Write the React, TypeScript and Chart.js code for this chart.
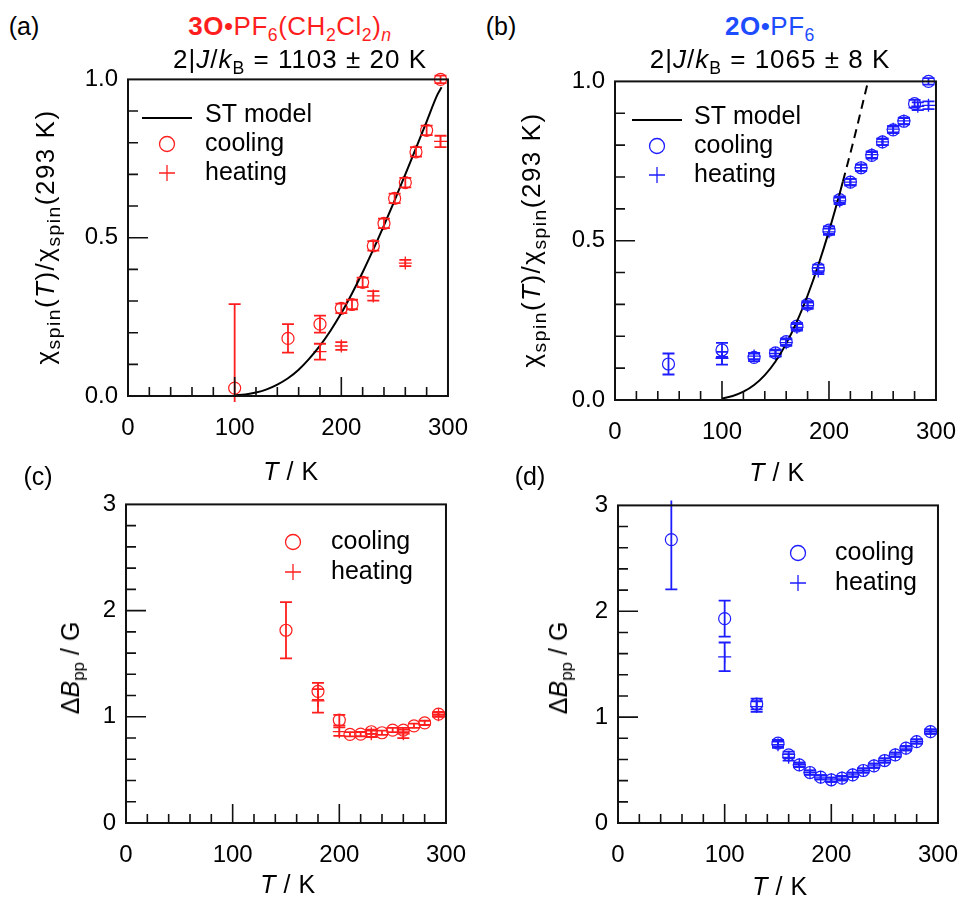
import React, { useEffect, useRef } from "react";
import { Chart, registerables } from "chart.js";
Chart.register(...registerables);

const FONT = '"Liberation Sans", Arial, Helvetica, sans-serif';
const RED = "#ff1e1e";
const BLUE = "#1c1cff";

// ---------- Panel (a): 3O·PF6(CH2Cl2)n, chi ratio ----------
const aCoolT = [100, 150, 180, 200, 210, 220, 230, 240, 250, 260, 270, 280, 293];
const aCoolV = [0.025, 0.182, 0.227, 0.277, 0.289, 0.359, 0.474, 0.545, 0.624, 0.674, 0.771, 0.839, 1.0];
const aCoolE = [0.265, 0.045, 0.027, 0.015, 0.015, 0.015, 0.015, 0.015, 0.015, 0.015, 0.015, 0.015, 0.012];
const aHeatT = [180, 200, 230, 260, 293];
const aHeatV = [0.14, 0.158, 0.316, 0.42, 0.804];
const aHeatE = [0.025, 0.012, 0.015, 0.01, 0.018];
const aStT = [100, 110, 120, 130, 140, 150, 160, 170, 180, 190, 200, 210, 220, 230, 240, 250, 260, 270, 280, 290, 294];
const aStV = [0.002, 0.005, 0.011, 0.021, 0.036, 0.056, 0.083, 0.118, 0.159, 0.207, 0.262, 0.324, 0.391, 0.463, 0.539, 0.618, 0.7, 0.783, 0.867, 0.951, 0.975];

// ---------- Panel (b): 2O·PF6, chi ratio ----------
const bCoolT = [50, 100, 130, 150, 160, 170, 180, 190, 200, 210, 220, 230, 240, 250, 260, 270, 280, 293];
const bCoolV = [0.113, 0.157, 0.134, 0.148, 0.183, 0.232, 0.3, 0.413, 0.533, 0.629, 0.684, 0.729, 0.768, 0.81, 0.848, 0.875, 0.93, 1.0];
const bCoolE = [0.033, 0.022, 0.012, 0.01, 0.01, 0.01, 0.01, 0.012, 0.012, 0.01, 0.01, 0.01, 0.01, 0.01, 0.01, 0.01, 0.012, 0.01];
const bHeatT = [100, 130, 150, 160, 170, 180, 190, 200, 210, 220, 230, 240, 250, 260, 270, 283, 293];
const bHeatV = [0.131, 0.138, 0.146, 0.18, 0.228, 0.296, 0.405, 0.528, 0.625, 0.684, 0.729, 0.77, 0.81, 0.85, 0.876, 0.922, 0.925];
const bHeatE = [0.02, 0.01, 0.01, 0.01, 0.01, 0.01, 0.01, 0.01, 0.01, 0.01, 0.01, 0.01, 0.01, 0.01, 0.01, 0.012, 0.012];
const bStT = [100, 110, 120, 130, 140, 150, 160, 170, 180, 190, 200, 210, 213];
const bStV = [0.005, 0.0125, 0.026, 0.047, 0.078, 0.121, 0.177, 0.246, 0.328, 0.423, 0.53, 0.648, 0.686];
const bStDashT = [213, 220, 225, 230, 236.5];
const bStDashV = [0.686, 0.775, 0.841, 0.91, 1.0];

// ---------- Panel (c): 3O·PF6(CH2Cl2)n, linewidth ----------
const cCoolT = [150, 180, 200, 210, 220, 230, 240, 250, 260, 270, 280, 293];
const cCoolV = [1.815, 1.24, 0.969, 0.835, 0.837, 0.859, 0.85, 0.875, 0.875, 0.915, 0.943, 1.025];
const cCoolE = [0.265, 0.08, 0.05, 0.02, 0.02, 0.02, 0.02, 0.02, 0.02, 0.02, 0.02, 0.02];
const cHeatT = [180, 200, 230, 260, 293];
const cHeatV = [1.15, 0.86, 0.84, 0.84, 1.02];
const cHeatE = [0.11, 0.04, 0.03, 0.04, 0.02];

// ---------- Panel (d): 2O·PF6, linewidth ----------
const dCoolT = [50, 100, 130, 150, 160, 170, 180, 190, 200, 210, 220, 230, 240, 250, 260, 270, 280, 293];
const dCoolV = [2.677, 1.93, 1.124, 0.754, 0.644, 0.549, 0.477, 0.433, 0.408, 0.424, 0.455, 0.496, 0.54, 0.59, 0.644, 0.707, 0.769, 0.863];
const dCoolE = [0.47, 0.17, 0.05, 0.03, 0.03, 0.02, 0.02, 0.02, 0.02, 0.02, 0.02, 0.02, 0.02, 0.02, 0.02, 0.02, 0.02, 0.02];
const dHeatT = [100, 130, 150, 160, 170, 180, 190, 200, 210, 220, 230, 240, 250, 260, 270, 280, 293];
const dHeatV = [1.57, 1.1, 0.74, 0.62, 0.55, 0.475, 0.433, 0.408, 0.424, 0.455, 0.496, 0.54, 0.59, 0.644, 0.707, 0.769, 0.863];
const dHeatE = [0.135, 0.05, 0.03, 0.03, 0.02, 0.02, 0.02, 0.02, 0.02, 0.02, 0.02, 0.02, 0.02, 0.02, 0.02, 0.02, 0.02];

const xTickLabels = [0, 100, 200, 300];

const PAD_L = 90, PAD_T = 24, PAD_R = 36, PAD_B = 60;

type Series = { T: number[]; V: number[]; E?: number[] };
type Line = { T: number[]; V: number[]; dash?: number[] };
type Leg = { x: number; y: number; tx: number; ty: number };
type PanelProps = {
  plot: { l: number; t: number; w: number; h: number };
  yMax: number; yStep: number; yMinor: number; yDigits: number;
  color: string;
  cool: Series; heat: Series; lines: Line[];
  legLine?: { x1: number; x2: number; y: number; tx: number; ty: number };
  legCool: Leg; legHeat: Leg;
};

const zip = (T: number[], V: number[]) => T.map((t, i) => ({ x: t, y: V[i] }));

function Panel(p: PanelProps) {
  const ref = useRef<HTMLCanvasElement>(null);
  const cl = p.plot.l - PAD_L, ct = p.plot.t - PAD_T;
  const cw = p.plot.w + PAD_L + PAD_R, ch = p.plot.h + PAD_T + PAD_B;
  useEffect(() => {
    if (!ref.current) return;
    const datasets: any[] = [];
    p.lines.forEach((l) =>
      datasets.push({
        data: zip(l.T, l.V), showLine: true, borderColor: "#000", borderWidth: 2,
        borderDash: l.dash || [], pointRadius: 0, cubicInterpolationMode: "monotone", clip: 4,
      })
    );
    datasets.push({
      data: zip(p.cool.T, p.cool.V), pointStyle: "circle", pointRadius: 6,
      pointBorderWidth: 1.2, pointBorderColor: p.color, pointBackgroundColor: "rgba(0,0,0,0)", clip: false,
    });
    datasets.push({
      data: zip(p.heat.T, p.heat.V), pointStyle: "cross", pointRadius: 6.5,
      pointBorderWidth: 1.3, pointBorderColor: p.color, pointBackgroundColor: p.color, clip: false,
    });
    const toC = (x: number, y: number) => [x - cl, y - ct];
    const deco = {
      id: "deco",
      afterDatasetsDraw(chart: any) {
        const { ctx, chartArea: a, scales } = chart;
        const xs = scales.x, ys = scales.y;
        ctx.save();
        ctx.strokeStyle = p.color;
        ctx.lineWidth = 1.8;
        [p.cool, p.heat].forEach((s) => {
          if (!s.E) return;
          s.T.forEach((t, i) => {
            const px = xs.getPixelForValue(t);
            const y1 = ys.getPixelForValue(s.V[i] + s.E![i]);
            const y2 = ys.getPixelForValue(s.V[i] - s.E![i]);
            const lt = a.top - 5, lb = a.bottom + 6;
            const yt = Math.max(y1, lt), yb = Math.min(y2, lb);
            ctx.beginPath();
            ctx.moveTo(px, yt); ctx.lineTo(px, yb);
            if (y1 >= lt) { ctx.moveTo(px - 6, y1); ctx.lineTo(px + 6, y1); }
            if (y2 <= lb) { ctx.moveTo(px - 6, y2); ctx.lineTo(px + 6, y2); }
            ctx.stroke();
          });
        });
        ctx.restore();
      },
      afterDraw(chart: any) {
        const { ctx, chartArea: a, scales } = chart;
        const xs = scales.x, ys = scales.y;
        ctx.save();
        ctx.strokeStyle = "#111";
        ctx.lineWidth = 2;
        ctx.strokeRect(a.left, a.top, a.right - a.left, a.bottom - a.top);
        ctx.lineWidth = 1.6;
        ctx.beginPath();
        for (let t = 20; t < 300; t += 20) {
          const px = xs.getPixelForValue(t);
          const len = t % 100 === 0 ? 19 : 9;
          ctx.moveTo(px, a.bottom); ctx.lineTo(px, a.bottom - len);
        }
        const n = Math.round(p.yMax / p.yMinor);
        const r = Math.round(p.yStep / p.yMinor);
        for (let k = 1; k < n; k++) {
          const py = ys.getPixelForValue(k * p.yMinor);
          const len = k % r === 0 ? 20 : 10;
          ctx.moveTo(a.left, py); ctx.lineTo(a.left + len, py);
        }
        ctx.stroke();
        // legend
        ctx.font = `25px ${FONT}`;
        ctx.fillStyle = "#000";
        ctx.textBaseline = "middle";
        ctx.textAlign = "left";
        if (p.legLine) {
          const L = p.legLine;
          const [x1, y1] = toC(L.x1, L.y); const [x2] = toC(L.x2, L.y);
          ctx.strokeStyle = "#000"; ctx.lineWidth = 2;
          ctx.beginPath(); ctx.moveTo(x1, y1); ctx.lineTo(x2, y1); ctx.stroke();
          const [tx, ty] = toC(L.tx, L.ty);
          ctx.fillText("ST model", tx, ty);
        }
        ctx.strokeStyle = p.color; ctx.lineWidth = 1.3;
        {
          const [cx, cy] = toC(p.legCool.x, p.legCool.y);
          ctx.beginPath(); ctx.arc(cx, cy, 7.5, 0, Math.PI * 2); ctx.stroke();
          const [tx, ty] = toC(p.legCool.tx, p.legCool.ty);
          ctx.fillText("cooling", tx, ty);
        }
        {
          const [cx, cy] = toC(p.legHeat.x, p.legHeat.y);
          ctx.beginPath();
          ctx.moveTo(cx - 8, cy); ctx.lineTo(cx + 8, cy);
          ctx.moveTo(cx, cy - 8); ctx.lineTo(cx, cy + 8);
          ctx.stroke();
          const [tx, ty] = toC(p.legHeat.tx, p.legHeat.ty);
          ctx.fillText("heating", tx, ty);
        }
        ctx.restore();
      },
    };
    const chart = new Chart(ref.current, {
      type: "scatter",
      data: { datasets },
      options: {
        responsive: false,
        maintainAspectRatio: false,
        animation: false,
        layout: { padding: { top: PAD_T, right: PAD_R, left: 0, bottom: 0 } },
        plugins: { legend: { display: false }, tooltip: { enabled: false } },
        scales: {
          x: {
            type: "linear", min: 0, max: 300,
            afterBuildTicks: (s: any) => { s.ticks = xTickLabels.map((v) => ({ value: v })); },
            ticks: { font: { family: FONT, size: 24 }, color: "#000", padding: 18, maxRotation: 0, autoSkip: false },
            grid: { display: false, drawTicks: false },
            border: { display: false },
            afterFit: (s: any) => { s.height = PAD_B; },
          },
          y: {
            type: "linear", min: 0, max: p.yMax,
            ticks: {
              stepSize: p.yStep, font: { family: FONT, size: 24 }, color: "#000", padding: 10,
              callback: (v: any) => Number(v).toFixed(p.yDigits),
            },
            grid: { display: false, drawTicks: false },
            border: { display: false },
            afterFit: (s: any) => { s.width = PAD_L; },
          },
        },
      } as any,
      plugins: [deco],
    });
    return () => chart.destroy();
  }, []);
  return (
    <canvas
      ref={ref}
      width={cw}
      height={ch}
      style={{ position: "absolute", left: cl, top: ct, width: cw, height: ch }}
    />
  );
}

function Txt(props: { x: number; y: number; size: number; color?: string; rot?: boolean; ls?: number; children: any }) {
  return (
    <div
      style={{
        position: "absolute", left: props.x, top: props.y,
        transform: `translate(-50%, -50%)${props.rot ? " rotate(-90deg)" : ""}`,
        whiteSpace: "nowrap", fontFamily: FONT, fontSize: props.size, lineHeight: 1.2,
        color: props.color || "#000", letterSpacing: props.ls ? `${props.ls}px` : undefined,
      }}
    >
      {props.children}
    </div>
  );
}

const Sub = (p: { children: any; s?: number }) => (
  <span style={{ fontSize: `${p.s || 0.68}em`, position: "relative", top: "0.32em" }}>{p.children}</span>
);

const Chi = () => (
  <span>
    χ<Sub s={0.74}>spin</Sub>(<i>T</i>)/χ<Sub s={0.74}>spin</Sub>(293 K)
  </span>
);
const DB = () => (
  <span>
    Δ<i>B</i><Sub>pp</Sub> / G
  </span>
);
const TK = () => (
  <span>
    <i>T</i> / K
  </span>
);

export default function App() {
  return (
    <div style={{ position: "absolute", left: 0, top: 0, width: 965, height: 904, background: "#fff", overflow: "hidden" }}>
      <Panel
        plot={{ l: 128, t: 79, w: 322, h: 317 }}
        yMax={1} yStep={0.5} yMinor={0.1} yDigits={1} color={RED}
        cool={{ T: aCoolT, V: aCoolV, E: aCoolE }}
        heat={{ T: aHeatT, V: aHeatV, E: aHeatE }}
        lines={[{ T: aStT, V: aStV }]}
        legLine={{ x1: 142, x2: 192, y: 118, tx: 205, ty: 115 }}
        legCool={{ x: 167, y: 144, tx: 205, ty: 144 }}
        legHeat={{ x: 167, y: 173, tx: 205, ty: 173 }}
      />
      <Panel
        plot={{ l: 615, t: 81, w: 323, h: 319 }}
        yMax={1} yStep={0.5} yMinor={0.1} yDigits={1} color={BLUE}
        cool={{ T: bCoolT, V: bCoolV, E: bCoolE }}
        heat={{ T: bHeatT, V: bHeatV, E: bHeatE }}
        lines={[{ T: bStT, V: bStV }, { T: bStDashT, V: bStDashV, dash: [9, 6] }]}
        legLine={{ x1: 632, x2: 682, y: 120, tx: 694, ty: 117 }}
        legCool={{ x: 657, y: 146, tx: 694, ty: 146 }}
        legHeat={{ x: 657, y: 175, tx: 694, ty: 175 }}
      />
      <Panel
        plot={{ l: 126, t: 504, w: 322, h: 319 }}
        yMax={3} yStep={1} yMinor={0.2} yDigits={0} color={RED}
        cool={{ T: cCoolT, V: cCoolV, E: cCoolE }}
        heat={{ T: cHeatT, V: cHeatV, E: cHeatE }}
        lines={[]}
        legCool={{ x: 293, y: 542, tx: 331, ty: 542 }}
        legHeat={{ x: 293, y: 572, tx: 331, ty: 572 }}
      />
      <Panel
        plot={{ l: 618, t: 505, w: 322, h: 318 }}
        yMax={3} yStep={1} yMinor={0.2} yDigits={0} color={BLUE}
        cool={{ T: dCoolT, V: dCoolV, E: dCoolE }}
        heat={{ T: dHeatT, V: dHeatV, E: dHeatE }}
        lines={[]}
        legCool={{ x: 798, y: 553, tx: 835, ty: 553 }}
        legHeat={{ x: 798, y: 583, tx: 835, ty: 583 }}
      />

      <Txt x={24} y={26} size={25}>(a)</Txt>
      <Txt x={501} y={26} size={25}>(b)</Txt>
      <Txt x={38} y={476} size={25}>(c)</Txt>
      <Txt x={530} y={476} size={25}>(d)</Txt>

      <Txt x={290} y={27} size={26} ls={0.5} color={RED}>
        <b>3O</b>•PF<Sub>6</Sub>(CH<Sub>2</Sub>Cl<Sub>2</Sub>)<Sub><i>n</i></Sub>
      </Txt>
      <Txt x={300} y={60} size={26} ls={1}>
        2|<i>J</i>/<i>k</i><Sub>B</Sub> = 1103 ± 20 K
      </Txt>
      <Txt x={770} y={27} size={26} ls={0.5} color="#1e4cff">
        <b>2O</b>•PF<Sub>6</Sub>
      </Txt>
      <Txt x={770} y={60} size={26} ls={1}>
        2|<i>J</i>/<i>k</i><Sub>B</Sub> = 1065 ± 8 K
      </Txt>

      <Txt x={46} y={237} size={26} ls={1.5} rot><Chi /></Txt>
      <Txt x={532} y={240} size={26} ls={1.5} rot><Chi /></Txt>
      <Txt x={70} y={668} size={25} rot><DB /></Txt>
      <Txt x={558} y={668} size={25} rot><DB /></Txt>

      <Txt x={291} y={471} size={25} ls={0.5}><TK /></Txt>
      <Txt x={777} y={472} size={25} ls={0.5}><TK /></Txt>
      <Txt x={288} y={884} size={25} ls={0.5}><TK /></Txt>
      <Txt x={780} y={886} size={25} ls={0.5}><TK /></Txt>
    </div>
  );
}
